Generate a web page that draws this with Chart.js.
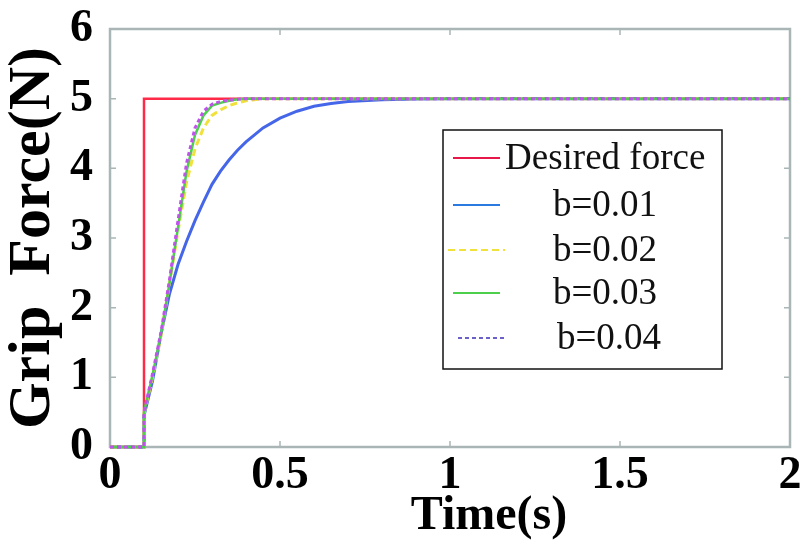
<!DOCTYPE html>
<html>
<head>
<meta charset="utf-8">
<script src="https://cdn.jsdelivr.net/npm/chart.js@4/dist/chart.umd.min.js"></script>
<style>
  html, body { margin: 0; padding: 0; background: #fff; }
  #wrap { width: 812px; height: 556px; }
</style>
</head>
<body>
<div id="wrap"><canvas id="c" width="812" height="556"></canvas></div>
<script>
// legend labels, in legend order
const seriesLabels = ['Desired force', 'b=0.01', 'b=0.02', 'b=0.03', 'b=0.04'];

// desired force: step at 0.1 s
const desiredTime = [0, 0.1, 0.1, 2];
const desiredForce = [0, 0, 5, 5];

// shared time base of the responses (s)
const timeS = [0, 0.1, 0.1, 0.125, 0.15, 0.175, 0.2, 0.225, 0.25, 0.275, 0.3, 0.325, 0.35, 0.375, 0.4, 0.45, 0.5, 0.55, 0.6, 0.65, 0.7, 0.8, 0.9, 1.0, 1.5, 2.0];

// grip force (N)
const forceB001 = [0, 0, 0.45, 0.95, 1.62, 2.2, 2.62, 2.95, 3.25, 3.52, 3.77, 3.96, 4.12, 4.26, 4.38, 4.58, 4.72, 4.82, 4.89, 4.93, 4.96, 4.985, 4.995, 5, 5, 5];
const forceB002 = [0, 0, 0.48, 1.0, 1.6, 2.35, 3.1, 3.8, 4.28, 4.58, 4.76, 4.84, 4.9, 4.94, 4.97, 5, 5, 5, 5, 5, 5, 5, 5, 5, 5, 5];
const forceB003 = [0, 0, 0.5, 1.03, 1.62, 2.35, 3.15, 3.95, 4.48, 4.76, 4.9, 4.94, 4.97, 4.99, 5, 5, 5, 5, 5, 5, 5, 5, 5, 5, 5, 5];
const forceB004 = [0, 0, 0.5, 1.05, 1.65, 2.4, 3.25, 4.07, 4.58, 4.82, 4.92, 4.96, 4.98, 4.99, 5, 5, 5, 5, 5, 5, 5, 5, 5, 5, 5, 5];

const xTicks = [0, 0.5, 1, 1.5, 2];
const yTicks = [0, 1, 2, 3, 4, 5, 6];

const colors = ['#ff2a48', '#4566e8', '#f0e23a', '#4cd04c', '#c052ec'];
const dashes = [[], [], [7, 4], [], [4, 3]];
const widths = [2.5, 3, 3, 2.5, 3];

function pts(xs, ys) {
    return xs.map((x, i) => ({ x: x, y: ys[i] }));
}

const seriesData = [
    pts(desiredTime, desiredForce),
    pts(timeS, forceB001),
    pts(timeS, forceB002),
    pts(timeS, forceB003),
    pts(timeS, forceB004)
];

const datasets = seriesData.map((d, i) => ({
    label: seriesLabels[i],
    data: d,
    showLine: true,
    borderColor: colors[i],
    backgroundColor: colors[i],
    borderWidth: widths[i],
    borderDash: dashes[i],
    pointRadius: 0,
    tension: 0,
    fill: false,
    clip: false,
    order: 5 - i   // later series on top
}));

const FRAME = '#aab6b6';

// frame, inward ticks, x title and the boxed legend
const decor = {
    id: 'decor',
    beforeDatasetsDraw(chart) {
        const ctx = chart.ctx;
        const a = chart.chartArea;
        const xs = chart.scales.x, ys = chart.scales.y;
        ctx.save();
        ctx.strokeStyle = FRAME;
        ctx.lineWidth = 2.5;
        ctx.strokeRect(a.left, a.top, a.right - a.left, a.bottom - a.top);
        ctx.lineWidth = 1.5;
        ctx.beginPath();
        xTicks.forEach(v => {
            const px = xs.getPixelForValue(v);
            ctx.moveTo(px, a.bottom); ctx.lineTo(px, a.bottom - 6);
            ctx.moveTo(px, a.top); ctx.lineTo(px, a.top + 6);
        });
        yTicks.forEach(v => {
            const py = ys.getPixelForValue(v);
            ctx.moveTo(a.left, py); ctx.lineTo(a.left + 6, py);
            ctx.moveTo(a.right, py); ctx.lineTo(a.right - 6, py);
        });
        ctx.stroke();
        ctx.restore();
    },
    afterDraw(chart) {
        const ctx = chart.ctx;
        ctx.save();
        // x axis title, sits right of centre in the original
        ctx.fillStyle = '#000';
        ctx.font = 'bold 48px "Liberation Serif"';
        ctx.textAlign = 'center';
        ctx.textBaseline = 'middle';
        ctx.fillText('Time(s)', 489, 517);

        // legend box
        const bx = 443, by = 130, bw = 279, bh = 239;
        ctx.fillStyle = '#fff';
        ctx.fillRect(bx, by, bw, bh);
        ctx.strokeStyle = '#111';
        ctx.lineWidth = 1.5;
        ctx.strokeRect(bx, by, bw, bh);

        const rowY = [158, 205, 250, 293, 338];
        const lineX = [[453, 500], [453, 500], [448, 505], [453, 500], [458, 505]];
        const textX = [505, 553, 553, 553, 557];
        const legendColors = ['#e8174a', '#2a7ae0', '#f0e23a', '#4cd04c', '#6a62c8'];
        ctx.font = '37px "Liberation Serif"';
        ctx.textAlign = 'left';
        chart.data.datasets.forEach((ds, i) => {
            ctx.strokeStyle = legendColors[i];
            ctx.lineWidth = 2;
            ctx.setLineDash(ds.borderDash || []);
            ctx.beginPath();
            ctx.moveTo(lineX[i][0], rowY[i]);
            ctx.lineTo(lineX[i][1], rowY[i]);
            ctx.stroke();
            ctx.setLineDash([]);
            ctx.fillStyle = '#111';
            ctx.fillText(ds.label, textX[i], rowY[i] + 1);
        });
        ctx.restore();
    }
};

function noPad(s) {
    s.paddingTop = 0; s.paddingBottom = 0; s.paddingLeft = 0; s.paddingRight = 0;
}

new Chart(document.getElementById('c'), {
    type: 'scatter',
    data: { datasets: datasets },
    options: {
        responsive: false,
        animation: false,
        layout: { padding: { top: 29, right: 22, left: 0, bottom: 0 } },
        plugins: {
            legend: { display: false },
            tooltip: { enabled: false }
        },
        scales: {
            x: {
                type: 'linear',
                min: 0,
                max: 2,
                afterFit: s => { s.height = 109; noPad(s); },
                afterBuildTicks: s => { s.ticks = xTicks.map(v => ({ value: v })); },
                grid: { display: false, drawTicks: false },
                border: { display: false },
                ticks: {
                    color: '#000',
                    padding: 2,
                    maxRotation: 0,
                    callback: v => String(v),
                    font: { family: 'Liberation Serif', size: 46, weight: 'bold' }
                },
                title: { display: false }
            },
            y: {
                type: 'linear',
                min: 0,
                max: 6,
                afterFit: s => { s.width = 110; noPad(s); },
                afterBuildTicks: s => { s.ticks = yTicks.map(v => ({ value: v })); },
                grid: { display: false, drawTicks: false },
                border: { display: false },
                ticks: {
                    color: '#000',
                    padding: 17,
                    callback: v => String(v),
                    font: { family: 'Liberation Serif', size: 46, weight: 'bold' }
                },
                title: {
                    display: true,
                    text: 'Grip  Force(N)',
                    color: '#000',
                    padding: 0,
                    font: { family: 'Liberation Serif', size: 60, weight: 'bold', lineHeight: 1.1 }
                }
            }
        }
    },
    plugins: [decor]
});
</script>
</body>
</html>
